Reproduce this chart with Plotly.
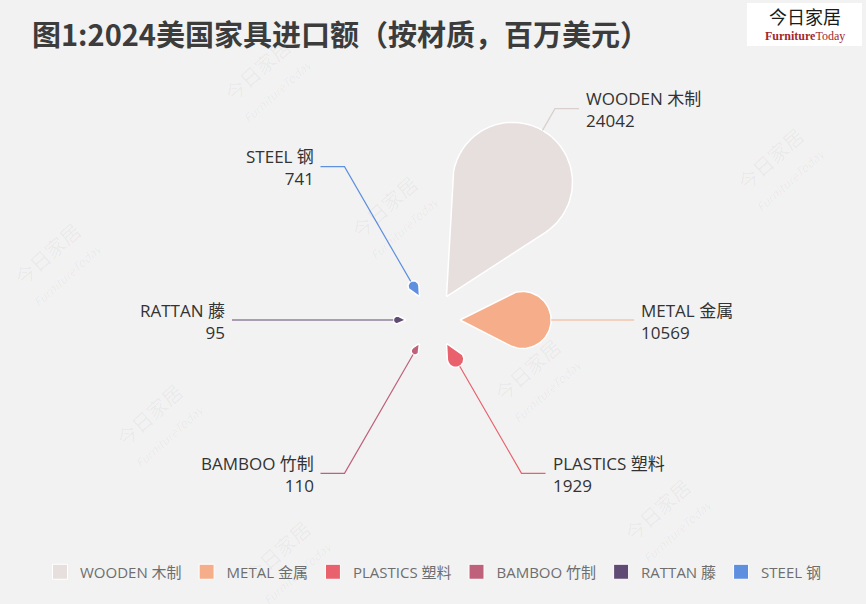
import math
import plotly.graph_objs as go

# data
materials = ['WOODEN 木制', 'METAL 金属', 'PLASTICS 塑料', 'BAMBOO 竹制', 'RATTAN 藤', 'STEEL 钢']
imports = [24042, 10569, 1929, 110, 95, 741]
colors = ['#e7dfde', '#f5ae89', '#e8616c', '#bf617b', '#5f4b73', '#5f90e0']

title = '图1:2024美国家具进口额（按材质，百万美元）'

# canvas is laid out in pixel units (866 x 604, y downwards)
W, H = 866, 604
cx, cy = 433, 320
apex_r = 27          # where each petal starts
base_r = 39          # radius for a zero value
max_r = 219          # radius for the largest value
half_angle = math.radians(27)
elbow_min = 177
len2 = 24
font_family = 'Open Sans, Noto Sans CJK SC, sans-serif'
cjk_family = 'Noto Sans CJK SC, sans-serif'

# watermark spots (decoration only)
watermarks = [(265, 78), (55, 262), (392, 215), (778, 167), (157, 423),
              (535, 378), (665, 518), (285, 560)]


def polar(r, theta):
    return cx + r * math.cos(theta), cy - r * math.sin(theta)


def petal(theta, r_out):
    length = r_out - apex_r
    rc = length / (1 + 1 / math.sin(half_angle))
    ccx, ccy = polar(r_out - rc, theta)
    ax, ay = polar(apex_r, theta)
    xs, ys = [ax], [ay]
    start = math.pi / 2 + half_angle
    n = 60
    for k in range(n + 1):
        phi = start - 2 * start * k / n
        xs.append(ccx + rc * math.cos(theta + phi))
        ys.append(ccy - rc * math.sin(theta + phi))
    xs.append(ax)
    ys.append(ay)
    return xs, ys


vmax = max(imports)
n_cat = len(materials)
step = 2 * math.pi / n_cat

fig = go.Figure()
annotations = []

for i, (name, val, col) in enumerate(zip(materials, imports, colors)):
    theta = math.pi / 2 - step * (i + 0.5)
    r_out = base_r + (max_r - base_r) * val / vmax
    xs, ys = petal(theta, r_out)
    fig.add_trace(go.Scatter(
        x=xs, y=ys, mode='lines', fill='toself', fillcolor=col,
        line=dict(color='white', width=1.5), name=name, showlegend=False,
        hoverinfo='name+text', text=str(val)
    ))
    # legend entry with a square swatch
    fig.add_trace(go.Scatter(
        x=[None], y=[None], mode='markers', name=name,
        marker=dict(symbol='square', size=15, color=col, line=dict(color='white', width=1))
    ))

    # label line: radial leg then horizontal leg
    elbow_r = max(r_out + 25, elbow_min)
    x0, y0 = polar(r_out, theta)
    x1, y1 = polar(elbow_r, theta)
    right = math.cos(theta) >= 0
    x2 = x1 + len2 if right else x1 - len2
    fig.add_trace(go.Scatter(
        x=[x0, x1, x2], y=[y0, y1, y1], mode='lines',
        line=dict(color=col if i else '#d8cfce', width=1.2),
        showlegend=False, hoverinfo='skip'
    ))
    annotations.append(dict(
        x=x2 + (5 if right else -5), y=y1 + 1, xref='x', yref='y',
        text=f'{name}<br>{val}', showarrow=False,
        xanchor='left' if right else 'right', yanchor='middle',
        align='left' if right else 'right',
        font=dict(family=font_family, size=17, color='#333333')
    ))

for wx, wy in watermarks:
    annotations.append(dict(
        x=wx, y=wy, xref='x', yref='y', showarrow=False, textangle=-42,
        text='今日家居<br><span style="font-size:12px"><i>FurnitureToday</i></span>',
        font=dict(family=cjk_family, size=20, color='rgba(0,0,0,0.045)')
    ))

annotations.append(dict(
    x=30, y=33, xref='x', yref='y', showarrow=False,
    xanchor='left', yanchor='middle', text=f'<b>{title}</b>',
    font=dict(family=cjk_family, size=29, color='#3c3c3c')
))
annotations.append(dict(
    x=805, y=16, xref='x', yref='y', showarrow=False, text='今日家居',
    font=dict(family=cjk_family, size=18, color='#1a1a1a')
))
annotations.append(dict(
    x=805, y=36, xref='x', yref='y', showarrow=False, text='<b>Furniture</b>Today',
    font=dict(family='Liberation Serif, serif', size=12, color='#a3262e')
))

fig.update_layout(
    width=W, height=H,
    margin=dict(l=0, r=0, t=0, b=0),
    paper_bgcolor='#f2f2f2', plot_bgcolor='#f2f2f2',
    xaxis=dict(range=[0, W], visible=False, fixedrange=True),
    yaxis=dict(range=[H, 0], visible=False, fixedrange=True),
    shapes=[dict(type='rect', xref='x', yref='y', x0=747, y0=3, x1=862, y1=46,
                 fillcolor='white', line=dict(width=0), layer='below')],
    annotations=annotations,
    legend=dict(orientation='h', x=0.5, xanchor='center', y=1 - 572 / H, yanchor='middle',
                font=dict(family=font_family, size=15, color='#6e6e6e'),
                itemwidth=30, bgcolor='rgba(0,0,0,0)', tracegroupgap=0),
    showlegend=True,
)

fig.write_html('out.html', config={'displayModeBar': False},
               post_script="document.body.style.margin='0';document.body.style.overflow='hidden';")
